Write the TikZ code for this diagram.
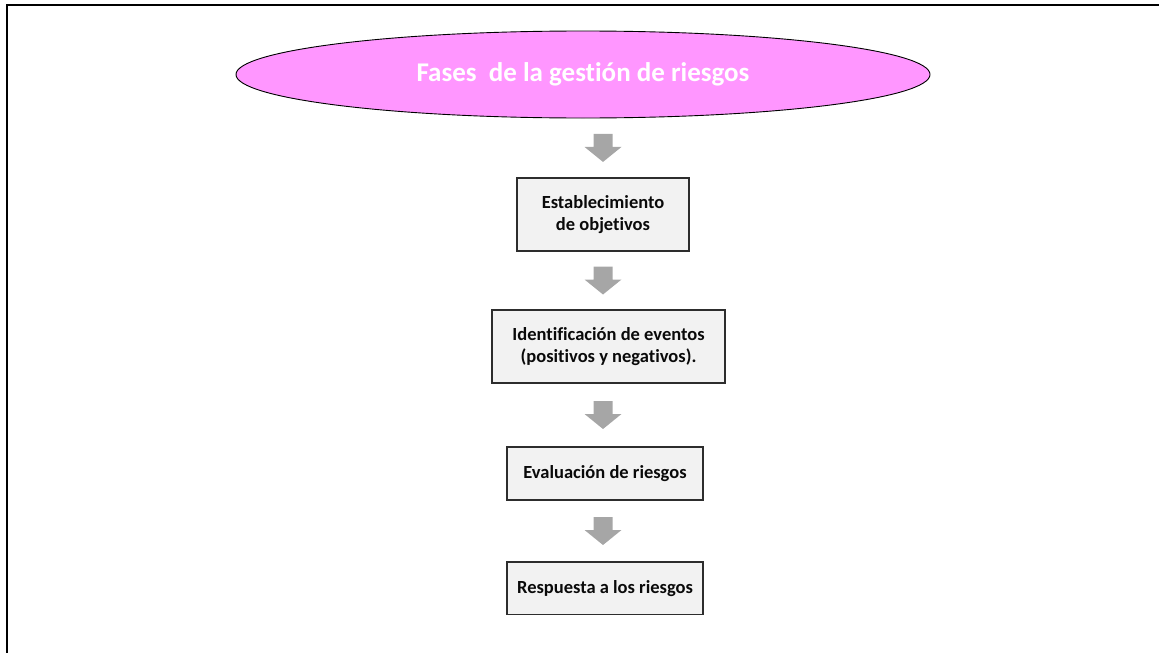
\documentclass[tikz,border=0pt]{standalone}
\usepackage{fontspec}
\setmainfont{Carlito}[Ligatures={NoCommon}]
\usetikzlibrary{shapes.geometric,calc}
\definecolor{titlepink}{RGB}{255,150,255}
\definecolor{boxfill}{RGB}{242,242,242}
\definecolor{boxline}{RGB}{45,45,45}
\definecolor{arrowgray}{RGB}{166,166,166}
\definecolor{textdark}{RGB}{10,10,10}
\tikzset{
  downarrow/.pic={
    \fill[arrowgray] (-9.5,-14) -- (9.5,-14) -- (9.5,-1) -- (18.5,-1)
      -- (0,14) -- (-18.5,-1) -- (-9.5,-1) -- cycle;
  },
  phase/.style={draw=boxline, line width=1.2pt, fill=boxfill, text=textdark,
    font=\bfseries\fontsize{18.5}{22.5}\selectfont, align=center, inner sep=0pt},
  titleshape/.style={ellipse, draw=black, line width=0.9pt, fill=titlepink,
    text=white, inner sep=0pt, font=\bfseries\fontsize{27}{32}\selectfont}
}
\begin{document}
\begin{tikzpicture}[x=1pt,y=-1pt]
  \useasboundingbox (0,0) rectangle (1159,653);
  % page frame (only top and left edges fall inside the page)
  \draw[line width=2pt] (7,660) -- (7,5) -- (1165,5);

  % title
  \node[titleshape, minimum width=694, minimum height=87] (title) at (583,74.5)
    {Fases\ \ de la gestión de riesgos};

  % phases
  \node[phase, minimum width=172, minimum height=73] (b1) at (603,214.5)
    {Establecimiento\\de objetivos};
  \node[phase, minimum width=233, minimum height=73] (b2) at (608.5,346.5)
    {Identificación de eventos\\(positivos y negativos).};
  \node[phase, minimum width=196, minimum height=53] (b3) at (605,473.5)
    {Evaluación de riesgos};
  \begin{scope}
    \clip (0,0) rectangle (1159,614);
    \node[phase, minimum width=196, minimum height=53] (b4) at (605,588.5)
      {Respuesta a los riesgos};
  \end{scope}

  % block arrows between consecutive phases
  \coordinate (ax) at (603,0);
  \coordinate (m1) at ($(title.south)!0.5!(b1.north)$);
  \coordinate (m2) at ($(b1.south)!0.5!(b2.north)$);
  \coordinate (m3) at ($(b2.south)!0.5!(b3.north)$);
  \coordinate (m4) at ($(b3.south)!0.5!(b4.north)$);
  \foreach \m in {m1,m2,m3,m4}
    \pic at (\m -| ax) {downarrow};
\end{tikzpicture}
\end{document}
